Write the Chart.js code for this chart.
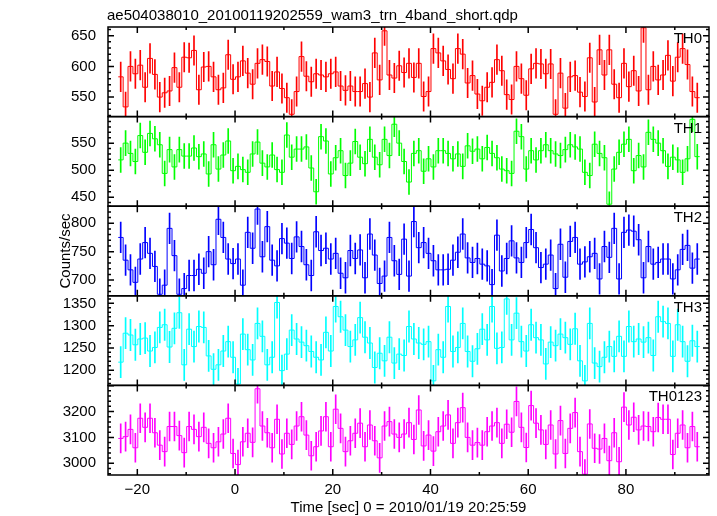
<!DOCTYPE html>
<html>
<head>
<meta charset="utf-8">
<script src="https://cdn.jsdelivr.net/npm/chart.js@4.4.1/dist/chart.umd.min.js"></script>
<style>
  html, body { margin: 0; padding: 0; background: #fff; }
  #wrap { width: 717px; height: 516px; }
</style>
</head>
<body>
<div id="wrap"><canvas id="lc" width="717" height="516"></canvas></div>
<script>
// --- data (1 s bins) ---
const titleText = 'ae504038010_20100119202559_wam3_trn_4band_short.qdp';
const xTitle = 'Time [sec] 0 = 2010/01/19 20:25:59';
const yTitle = 'Counts/sec';

const binStart = -23.9;
const binWidth = 1;

const bandNames = ['TH0', 'TH1', 'TH2', 'TH3', 'TH0123'];
const bandErrors = [24, 23, 27, 35, 56];

const th0 = [
  583, 534, 600, 588, 602, 566, 613, 587, 550, 557,
  560, 598, 566, 615, 614, 626, 562, 599, 600, 583,
  562, 565, 619, 579, 583, 609, 589, 571, 605, 611,
  608, 568, 591, 564, 549, 522, 559, 616, 584, 575,
  588, 586, 583, 588, 591, 568, 561, 568, 559, 559,
  572, 550, 622, 578, 658, 586, 581, 601, 590,
  605, 582, 605, 551, 559, 629, 622, 609, 595, 580,
  629, 620, 573, 585, 555, 544, 566, 574, 611, 593,
  554, 546, 600, 580, 553, 596, 605, 604, 588, 604,
  522, 589, 532, 583, 585, 558, 551, 614, 542, 627,
  586, 627, 571, 549, 605, 567, 593, 560, 663, 562,
  600, 578, 586, 618, 576, 615, 629, 603, 559, 549
];
const th1 = [
  519, 550, 531, 516, 564, 533, 568, 558, 547, 494,
  538, 506, 538, 526, 526, 541, 525, 530, 493, 547,
  502, 528, 554, 499, 507, 501, 496, 530, 552, 513,
  506, 528, 501, 496, 565, 524, 539, 539, 543, 504,
  460, 562, 554, 493, 523, 536, 490, 513, 553, 524,
  512, 557, 524, 510, 557, 527, 585, 550, 516, 478,
  531, 536, 498, 521, 506, 536, 536, 531, 521, 530,
  507, 545, 535, 539, 521, 542, 531, 523, 502, 499,
  494, 572, 562, 502, 536, 519, 536, 547, 536, 530,
  527, 538, 547, 543, 539, 496, 490, 548, 531, 523,
  437, 502, 533, 548, 557, 499, 527, 506, 570, 557,
  550, 536, 507, 524, 519, 496, 521, 594, 525
];
const th2 = [
  775, 735, 718, 696, 737, 766, 747, 724, 675, 691,
  791, 743, 675, 685, 708, 708, 719, 712, 750, 727,
  807, 775, 737, 729, 737, 691, 784, 756, 825, 741,
  794, 735, 725, 773, 765, 738, 776, 759, 727, 708,
  785, 752, 756, 737, 747, 712, 704, 752, 738, 753,
  704, 781, 744, 694, 707, 775, 734, 710, 772,
  707, 803, 757, 766, 747, 734, 718, 718, 719, 735,
  749, 781, 739, 731, 738, 728, 725, 692, 779, 716,
  738, 769, 739, 731, 766, 789, 757, 722, 728, 744,
  685, 763, 705, 768, 775, 728, 732, 741, 747, 702,
  759, 740, 791, 702, 784, 788, 786, 771, 704, 759,
  728, 731, 737, 737, 702, 718, 754, 761, 721, 737
];
const th3 = [
  1218, 1283, 1279, 1257, 1270, 1272, 1243, 1251, 1296, 1302,
  1252, 1294, 1329, 1212, 1292, 1253, 1298, 1296, 1232, 1202,
  1212, 1243, 1264, 1229, 1169, 1281, 1246, 1223, 1305, 1276,
  1212, 1229, 1352, 1199, 1236, 1290, 1270, 1263, 1255, 1242,
  1229, 1223, 1285, 1243, 1343, 1320, 1290, 1253, 1268, 1318,
  1274, 1261, 1206, 1238, 1221, 1274, 1216, 1236, 1233, 1298,
  1270, 1261, 1258, 1264, 1176, 1246, 1229, 1343, 1242, 1251,
  1305, 1242, 1220, 1248, 1292, 1268, 1343, 1249, 1251, 1360,
  1268, 1328, 1264, 1243, 1302, 1273, 1268, 1214, 1263, 1255,
  1281, 1273, 1258, 1293, 1221, 1176, 1305, 1216, 1208, 1229,
  1253, 1231, 1276, 1231, 1298, 1264, 1270, 1263, 1273, 1233,
  1320, 1309, 1305, 1231, 1302, 1264, 1220, 1266, 1253
];
const th0123 = [
  3096, 3103, 3131, 3060, 3174, 3139, 3174, 3118, 3070, 3045,
  3142, 3142, 3107, 3041, 3142, 3131, 3103, 3139, 3077, 3060,
  3083, 3113, 3174, 3038, 2995, 3083, 3116, 3081, 3288, 3144,
  3118, 3060, 3170, 3036, 3116, 3073, 3144, 3180, 3109, 3029,
  3064, 3125, 3180, 3064, 3209, 3135, 3045, 3087, 3116, 3155,
  3064, 3148, 3087, 3021, 3144, 3161, 3113, 3100, 3113, 3157,
  3092, 3206, 3067, 3109, 3047, 3122, 3144, 3187, 3077, 3157,
  3215, 3100, 3070, 3080, 3070, 3122, 3144, 3157, 3077, 3151,
  3120, 3239, 3139, 3061, 3223, 3155, 3129, 3073, 3148, 3036,
  3165, 3038, 3135, 3196, 3045, 2958, 3152, 3058, 3055, 3096,
  3010, 3118, 3006, 3217, 3148, 3178, 3129, 3144, 3142, 3122,
  3177, 3170, 3170, 3034, 3116, 3148, 3060, 3142, 3064
];

const xTicks = [-20, 0, 20, 40, 60, 80];
const yTicks = [
  [550, 600, 650],
  [450, 500, 550],
  [700, 750, 800],
  [1200, 1250, 1300, 1350],
  [3000, 3100, 3200]
];

// --- axes / look ---
const xRange = [-26, 97];
const yRanges = [[518.2, 664.2], [433.3, 599.1], [672.3, 830], [1165.8, 1367], [2954.7, 3301]];
const yMinor = [10, 10, 10, 10, 20];
const yMajor = [50, 50, 50, 50, 100];
const colors = ['#ff0000', '#00ff00', '#0000ff', '#00ffff', '#ff00ff'];
const series = [th0, th1, th2, th3, th0123];
const FONT = "'Liberation Sans', Arial, Helvetica, sans-serif";

function stepPoints(vals) {
  const pts = vals.map((v, i) => ({x: binStart + i * binWidth, y: v}));
  pts.push({x: binStart + vals.length * binWidth, y: vals[vals.length - 1]});
  return pts;
}

function errorPoints(vals, e) {
  return vals.map((v, i) => ({x: binStart + (i + 0.5) * binWidth, y: [v - e, v + e]}));
}

const datasets = [];
series.forEach((vals, k) => {
  datasets.push({
    type: 'bar',
    label: bandNames[k] + ' err',
    yAxisID: 'y' + k,
    data: errorPoints(vals, bandErrors[k]),
    backgroundColor: colors[k],
    borderWidth: 0,
    barThickness: 1,
    grouped: false
  });
  datasets.push({
    type: 'line',
    label: bandNames[k],
    yAxisID: 'y' + k,
    data: stepPoints(vals),
    borderColor: colors[k],
    borderWidth: 1,
    stepped: 'before',
    pointRadius: 0,
    fill: false,
    tension: 0
  });
});

const scales = {
  x: {
    type: 'linear',
    position: 'bottom',
    min: xRange[0],
    max: xRange[1],
    offset: false,
    grid: {display: false, drawTicks: false},
    border: {display: false},
    afterBuildTicks: s => { s.ticks = xTicks.map(v => ({value: v})); },
    afterFit: s => { s.height = 41; },
    ticks: {
      padding: 6,
      color: '#000',
      autoSkip: false,
      font: {family: FONT, size: 15},
      maxRotation: 0,
      callback: v => String(v).replace('-', '\u2212')
    }
  }
};
yRanges.forEach((r, k) => {
  scales['y' + k] = {
    type: 'linear',
    position: 'left',
    stack: 'panels',
    stackWeight: 1,
    weight: 10 - k,
    min: r[0],
    max: r[1],
    offset: false,
    grid: {display: false, drawTicks: false},
    border: {display: false},
    afterBuildTicks: s => { s.ticks = yTicks[k].map(v => ({value: v})); },
    afterFit: s => { s.width = 108; },
    ticks: {
      padding: 12,
      color: '#000',
      autoSkip: false,
      font: {family: FONT, size: 15},
      callback: v => String(v)
    }
  };
});

const panelFrame = {
  id: 'panelFrame',
  afterDatasetsDraw(chart) {
    const {ctx, chartArea: ca, scales: sc} = chart;
    const xs = sc.x;
    ctx.save();
    ctx.strokeStyle = '#000';
    ctx.lineWidth = 1.5;
    ctx.fillStyle = '#000';
    ctx.font = '15px ' + FONT;
    ctx.textAlign = 'right';
    ctx.textBaseline = 'alphabetic';
    bandNames.forEach((name, k) => {
      const ys = sc['y' + k];
      ctx.strokeRect(ca.left, ys.top, ca.right - ca.left, ys.bottom - ys.top);
      ctx.beginPath();
      const step = yMinor[k];
      for (let v = Math.ceil(ys.min / step) * step; v <= ys.max; v += step) {
        const y = ys.getPixelForValue(v);
        const len = v % yMajor[k] === 0 ? 6 : 3;
        ctx.moveTo(ca.left, y); ctx.lineTo(ca.left + len, y);
        ctx.moveTo(ca.right, y); ctx.lineTo(ca.right - len, y);
      }
      for (let t = Math.ceil(xs.min / 10) * 10; t <= xs.max; t += 10) {
        const x = xs.getPixelForValue(t);
        const len = t % 20 === 0 ? 6 : 3;
        ctx.moveTo(x, ys.top); ctx.lineTo(x, ys.top + len);
        ctx.moveTo(x, ys.bottom); ctx.lineTo(x, ys.bottom - len);
      }
      ctx.stroke();
      ctx.fillText(name, ca.right - 7, ys.top + 16);
    });
    ctx.restore();
  },
  afterDraw(chart) {
    const {ctx, chartArea: ca} = chart;
    ctx.save();
    ctx.fillStyle = '#000';
    ctx.font = '15px ' + FONT;
    ctx.textBaseline = 'alphabetic';
    ctx.textAlign = 'left';
    ctx.fillText(titleText, ca.left - 1, 20);
    ctx.textAlign = 'center';
    ctx.fillText(xTitle, (ca.left + ca.right) / 2, 512);
    ctx.translate(70, (ca.top + ca.bottom) / 2);
    ctx.rotate(-Math.PI / 2);
    ctx.fillText(yTitle, 0, 0);
    ctx.restore();
  }
};

new Chart(document.getElementById('lc'), {
  type: 'line',
  data: {datasets},
  options: {
    responsive: false,
    animation: false,
    devicePixelRatio: 1,
    layout: {padding: {top: 27, right: 8, bottom: 0, left: 0}},
    plugins: {legend: {display: false}, tooltip: {enabled: false}, title: {display: false}},
    scales
  },
  plugins: [panelFrame]
});
</script>
</body>
</html>
